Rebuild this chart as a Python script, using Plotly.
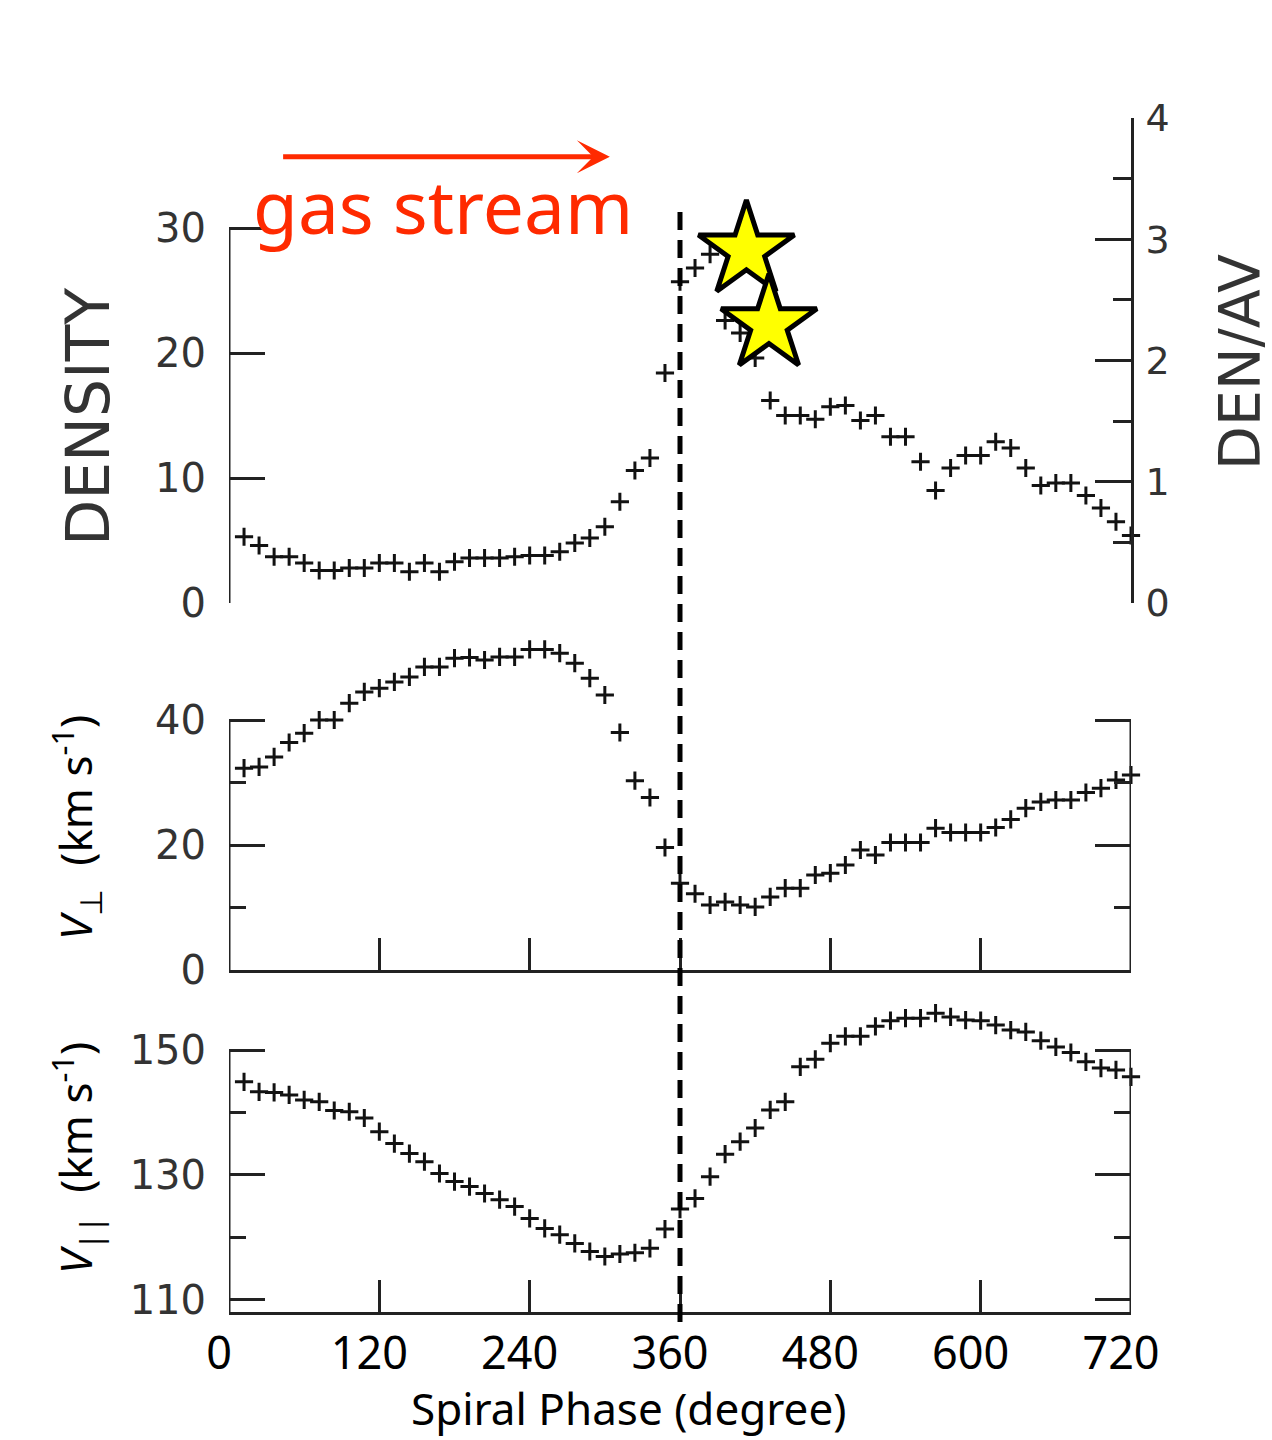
import plotly.graph_objects as go

# Spiral phase of each sample (degrees)
phase = [12, 24, 36, 48, 60, 72, 84, 96, 108, 120,
         132, 144, 156, 168, 180, 192, 204, 216, 228, 240,
         252, 264, 276, 288, 300, 312, 324, 336, 348, 360,
         372, 384, 396, 408, 420, 432, 444, 456, 468, 480,
         492, 504, 516, 528, 540, 552, 564, 576, 588, 600,
         612, 624, 636, 648, 660, 672, 684, 696, 708, 720]

density = [5.3, 4.6, 3.7, 3.7, 3.2, 2.6, 2.6, 2.8, 2.8, 3.2,
           3.2, 2.5, 3.2, 2.5, 3.3, 3.6, 3.6, 3.6, 3.7, 3.8,
           3.8, 4.1, 4.8, 5.2, 6.1, 8.1, 10.6, 11.6, 18.4, 25.7,
           26.8, 27.9, 22.6, 21.6, 19.6, 16.2, 15.0, 15.0, 14.7, 15.7,
           15.8, 14.6, 15.0, 13.3, 13.3, 11.3, 9.0, 10.8, 11.8, 11.8,
           12.9, 12.4, 10.8, 9.4, 9.6, 9.6, 8.6, 7.6, 6.5, 5.4]

v_perp = [32.3, 32.5, 34.1, 36.4, 37.9, 40.0, 40.0, 42.7, 44.5, 45.1,
          46.1, 46.9, 48.5, 48.5, 49.9, 50.0, 49.6, 50.1, 50.1, 51.3,
          51.3, 50.7, 49.1, 46.7, 44.0, 38.0, 30.3, 27.6, 19.6, 13.9,
          12.2, 10.4, 10.9, 10.4, 10.1, 11.7, 13.1, 13.1, 15.2, 15.5,
          16.8, 19.2, 18.4, 20.4, 20.4, 20.4, 22.7, 22.0, 22.0, 22.0,
          22.8, 24.1, 25.9, 26.9, 27.2, 27.2, 28.4, 29.1, 30.4, 31.2]

v_par = [144.9, 143.3, 143.2, 142.8, 142.0, 141.7, 140.3, 140.1, 139.1, 136.9,
         135.0, 133.4, 132.1, 130.2, 128.9, 128.1, 127.0, 126.0, 124.9, 123.0,
         121.4, 120.4, 119.0, 117.7, 116.9, 117.3, 117.5, 118.2, 121.3, 124.5,
         126.2, 129.7, 133.3, 135.3, 137.5, 140.4, 141.7, 147.3, 148.5, 151.1,
         152.2, 152.2, 153.8, 154.7, 155.1, 155.1, 155.9, 155.3, 154.8, 154.7,
         154.0, 153.2, 152.9, 151.5, 150.5, 149.6, 148.1, 147.1, 146.8, 145.7]

# Star-forming peaks marked downstream of the arm
star_phase = [413, 431]
star_density = [28.2, 22.3]

x_ticks = [0, 120, 240, 360, 480, 600, 720]
x_ticktext = ["0", "120", "240", "360", "480", "600", "720"]
arm_phase = 360

# framed extent of each panel (the data may run past it)
den_frame = [0, 30]
perp_frame = [0, 40]
par_frame = [108, 150]

W, H = 1272, 1440
AX = "#222222"
PT = "#121212"
RED = "#FF2A00"
OLD_FONT = "DejaVu Sans"
NEW_FONT = "Noto Sans"


def px_x(p):
    return p / W


def px_y(p):
    return 1 - p / H


x_dom = [px_x(229), px_x(1131)]

# pixel rows of the frames; plotting areas extend upward at the same scale
MID_TOP, MID_BOT, MID_AREA_TOP = 720, 970, 630
BOT_TOP, BOT_BOT, BOT_AREA_TOP = 1050, 1312, 990
mid_scale = (MID_BOT - MID_TOP) / (perp_frame[1] - perp_frame[0])
bot_scale = (BOT_BOT - BOT_TOP) / (par_frame[1] - par_frame[0])
mid_range = [perp_frame[0], perp_frame[0] + (MID_BOT - MID_AREA_TOP) / mid_scale]
bot_range = [par_frame[0], par_frame[0] + (BOT_BOT - BOT_AREA_TOP) / bot_scale]

cross = dict(symbol="cross-thin", size=13, line=dict(width=3, color=PT), color=PT)

fig = go.Figure()
fig.add_trace(go.Scatter(x=phase, y=density, mode="markers", marker=cross,
                         xaxis="x", yaxis="y", cliponaxis=False))
# empty layer so the DEN/AV scale on the right is drawn
fig.add_trace(go.Scatter(x=[], y=[], mode="markers", xaxis="x", yaxis="y2",
                         hoverinfo="skip"))
fig.add_trace(go.Scatter(x=phase, y=v_perp, mode="markers", marker=cross,
                         xaxis="x2", yaxis="y3", cliponaxis=False))
fig.add_trace(go.Scatter(x=phase, y=v_par, mode="markers", marker=cross,
                         xaxis="x3", yaxis="y4", cliponaxis=False))
fig.add_trace(go.Scatter(x=star_phase, y=star_density, mode="markers",
                         marker=dict(symbol="star", size=72, color="#FFFF00",
                                     line=dict(width=5, color="black")),
                         xaxis="x", yaxis="y", cliponaxis=False))

tick_old = dict(family=OLD_FONT, size=40, color="#333333")
common_x = dict(domain=x_dom, range=[0, 720], showgrid=False, zeroline=False,
                automargin=False)
inside_y = dict(showline=False, showgrid=False, zeroline=False, ticks="inside",
                ticklen=36, tickwidth=3, tickcolor=AX, tickfont=tick_old,
                automargin=False)
minor_y = dict(ticks="inside", ticklen=17, tickwidth=3, tickcolor=AX, showgrid=False)

fig.update_layout(
    template="none",
    width=W, height=H,
    margin=dict(l=0, r=0, t=0, b=0, pad=0),
    paper_bgcolor="white", plot_bgcolor="rgba(0,0,0,0)",
    showlegend=False,
    # top panel: density
    xaxis=dict(**common_x, anchor="y", visible=False),
    yaxis=dict(**inside_y, domain=[px_y(603), px_y(118)], range=[0, 38.8],
               anchor="x", tickvals=[0, 10, 20, 30], ticklabelstandoff=22),
    yaxis2=dict(overlaying="y", side="right", anchor="x", range=[0, 4],
                showline=True, linewidth=3, linecolor=AX, showgrid=False,
                zeroline=False, tickvals=[0, 1, 2, 3, 4], ticks="inside",
                ticklen=36, tickwidth=3, tickcolor=AX,
                minor=dict(minor_y, tickvals=[0.5, 1.5, 2.5, 3.5], ticklen=18),
                tickfont=dict(family=OLD_FONT, size=38, color="#333333"),
                ticklabelstandoff=4, automargin=False),
    # middle panel: perpendicular velocity
    xaxis2=dict(**common_x, anchor="y3", showline=True, linewidth=3, linecolor=AX,
                tickvals=[120, 240, 360, 480, 600], ticks="inside", ticklen=32,
                tickwidth=3, tickcolor=AX, showticklabels=False),
    yaxis3=dict(**inside_y, domain=[px_y(MID_BOT), px_y(MID_AREA_TOP)],
                range=mid_range, anchor="x2", mirror="ticks",
                tickvals=[0, 20, 40], ticklabelstandoff=22,
                minor=dict(minor_y, tickvals=[10, 30])),
    # bottom panel: parallel velocity
    xaxis3=dict(**common_x, anchor="y4", showline=True, linewidth=3, linecolor=AX,
                tickvals=x_ticks, ticktext=x_ticktext, ticks="inside", ticklen=32,
                tickwidth=3, tickcolor=AX,
                tickfont=dict(family=NEW_FONT, size=45, color="black"),
                ticklabelstandoff=0, ticklabelshift=-10),
    yaxis4=dict(**inside_y, domain=[px_y(BOT_BOT), px_y(BOT_AREA_TOP)],
                range=bot_range, anchor="x3", mirror="ticks",
                tickvals=[110, 130, 150], ticklabelstandoff=22,
                minor=dict(minor_y, tickvals=[120, 140])),
)

# spines limited to the framed extent of each panel
spine = dict(color=AX, width=3)
fig.add_shape(type="line", xref="x", yref="y", x0=0, x1=0,
              y0=den_frame[0], y1=den_frame[1], line=spine)
for xr, yr, frame in (("x2", "y3", perp_frame), ("x3", "y4", par_frame)):
    for edge in (0, 720):
        fig.add_shape(type="line", xref=xr, yref=yr, x0=edge, x1=edge,
                      y0=frame[0], y1=frame[1], line=spine)

# spiral arm position
fig.add_shape(type="line", xref="x3", yref="paper", x0=arm_phase, x1=arm_phase,
              y0=px_y(1322), y1=px_y(208),
              line=dict(color="black", width=5, dash="18px,10px"))

# gas stream arrow
fig.add_annotation(xref="x", yref="y", axref="x", ayref="y",
                   x=304, y=35.7, ax=42, ay=35.7, text="", showarrow=True,
                   arrowhead=3, arrowsize=1.1, arrowwidth=5, arrowcolor=RED)
fig.add_annotation(xref="paper", yref="paper", x=px_x(443), y=px_y(206),
                   text="gas stream", showarrow=False, xanchor="center",
                   yanchor="middle", font=dict(family=NEW_FONT, size=73, color=RED))

# axis titles
fig.add_annotation(xref="paper", yref="paper", x=px_x(88), y=px_y(417),
                   text="DENSITY", textangle=-90, showarrow=False,
                   xanchor="center", yanchor="middle",
                   font=dict(family=OLD_FONT, size=60, color="#333333"))
fig.add_annotation(xref="paper", yref="paper", x=px_x(1240), y=px_y(362),
                   text="DEN/AV", textangle=-90, showarrow=False,
                   xanchor="center", yanchor="middle",
                   font=dict(family=OLD_FONT, size=57, color="#333333"))
fig.add_annotation(xref="paper", yref="paper", x=px_x(76), y=px_y(828),
                   text="<i>V</i><sub>⊥</sub>\u00a0\u00a0(km s<sup>-1</sup>)",
                   textangle=-90, showarrow=False, xanchor="center", yanchor="middle",
                   font=dict(family=NEW_FONT, size=44, color="black"))
fig.add_annotation(xref="paper", yref="paper", x=px_x(76), y=px_y(1158),
                   text="<i>V</i><sub>||</sub>\u00a0\u00a0(km s<sup>-1</sup>)",
                   textangle=-90, showarrow=False, xanchor="center", yanchor="middle",
                   font=dict(family=NEW_FONT, size=44, color="black"))
fig.add_annotation(xref="paper", yref="paper", x=px_x(628), y=px_y(1408),
                   text="Spiral Phase (degree)", showarrow=False,
                   xanchor="center", yanchor="middle",
                   font=dict(family=NEW_FONT, size=44, color="black"))

fig.write_html("out.html")
